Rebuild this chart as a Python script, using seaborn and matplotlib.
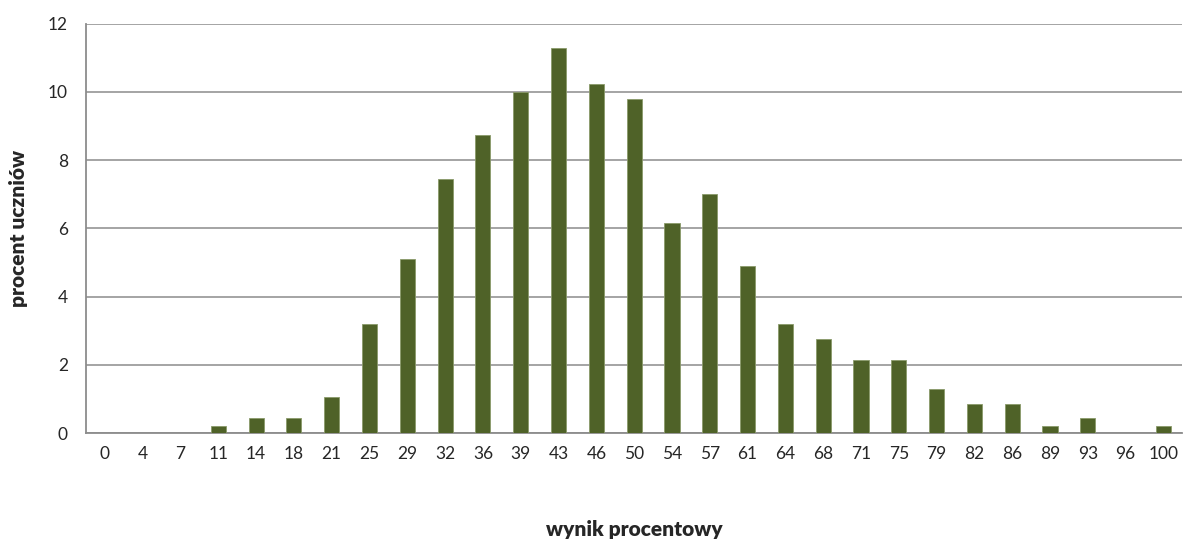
import pandas as pd
import seaborn as sns
import matplotlib.pyplot as plt

# Score categories (percent result) and share of students
scores = ["0", "4", "7", "11", "14", "18", "21", "25", "29", "32", "36", "39", "43", "46", "50",
          "54", "57", "61", "64", "68", "71", "75", "79", "82", "86", "89", "93", "96", "100"]
percents = [0, 0, 0, 0.2, 0.43, 0.43, 1.07, 3.2, 5.1, 7.45, 8.73, 10.0, 11.28, 10.22, 9.8,
            6.17, 7.02, 4.9, 3.2, 2.77, 2.13, 2.13, 1.28, 0.85, 0.85, 0.21, 0.43, 0, 0.21]

df = pd.DataFrame({"wynik": scores, "procent": percents})

sns.set_style("white")
plt.rcParams['font.family'] = ['Lato', 'DejaVu Sans']

fig = plt.figure(figsize=(11.84, 5.4), dpi=100)
ax = fig.add_axes([0.0726, 0.198, 0.926, 0.758])

sns.barplot(data=df, x="wynik", y="procent", color="#4F6228", width=0.4,
            saturation=1, edgecolor="#8a9a6a", linewidth=0.6, ax=ax, zorder=3)

ax.set_ylim(0, 12)
ax.set_yticks(range(0, 13, 2))
ax.set_xlim(-0.5, len(scores) - 0.5)
ax.yaxis.grid(True, color="#8c8c8c", linewidth=1.1, zorder=0)
ax.set_axisbelow(True)

for side in ["top", "right"]:
    ax.spines[side].set_visible(False)
for side in ["left", "bottom"]:
    ax.spines[side].set_color("#8c8c8c")
    ax.spines[side].set_linewidth(1.3)

ax.tick_params(axis="y", length=6, color="#8c8c8c", labelsize=12.5, pad=7)
ax.tick_params(axis="x", length=0, labelsize=12.5, pad=9)

ax.set_xlabel("wynik procentowy", fontsize=15, fontweight="heavy", labelpad=42)
ax.set_ylabel("procent uczniów", fontsize=15, fontweight="heavy", labelpad=14)

fig.savefig("out.png", dpi=100)
